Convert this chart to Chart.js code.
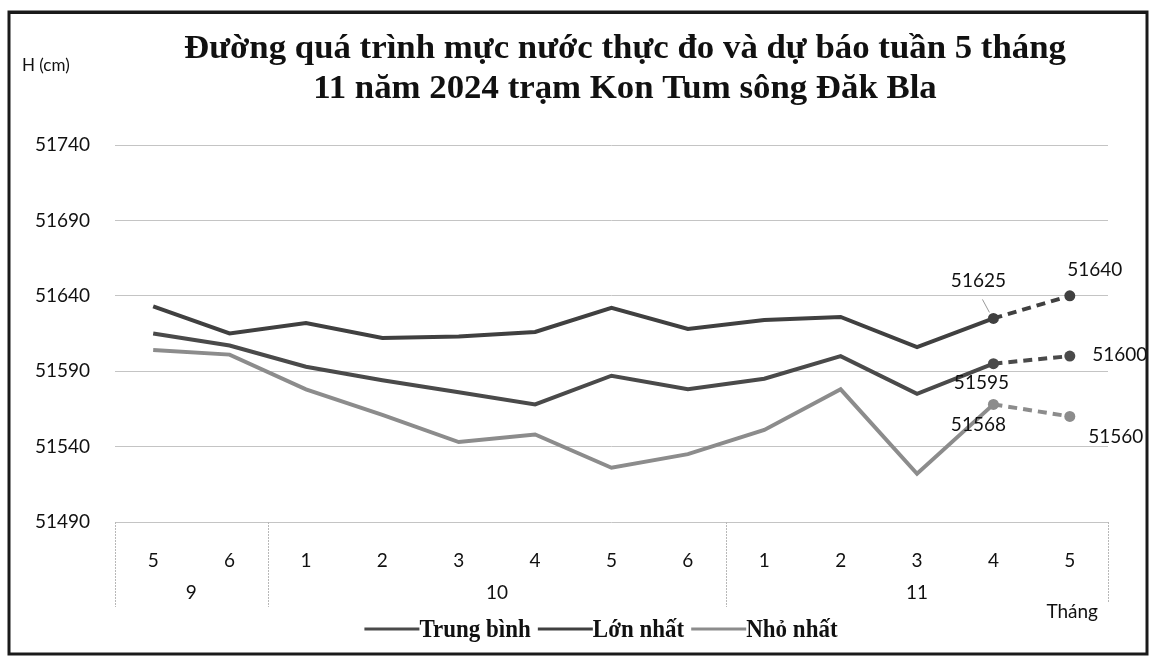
<!DOCTYPE html>
<html><head><meta charset="utf-8">
<script src="https://cdn.jsdelivr.net/npm/chart.js@4"></script>
<style>html,body{margin:0;padding:0;background:#fff}#wrap{width:1152px;height:657px}</style>
</head><body><div id="wrap"><canvas id="c" width="1152" height="657"></canvas></div>
<script>
// ---- data ----
const weeks = ['5','6','1','2','3','4','5','6','1','2','3','4','5'];
const months = ['9','10','11'];
const monthSpans = [2, 6, 5];
const avgLevel = [51615, 51607, 51593, 51584, 51576, 51568, 51587, 51578, 51585, 51600, 51575, 51595, 51600];
const maxLevel = [51633, 51615, 51622, 51612, 51613, 51616, 51632, 51618, 51624, 51626, 51606, 51625, 51640];
const minLevel = [51604, 51601, 51578, 51561, 51543, 51548, 51526, 51535, 51551, 51578, 51522, 51568, 51560];
const seriesNames = ['Trung bình', 'Lớn nhất', 'Nhỏ nhất'];
const forecastStart = 11;
const yMin = 51490, yMax = 51740, yStep = 50;
const titleLines = ['Đường quá trình mực nước thực đo và dự báo tuần 5 tháng', '11 năm 2024 trạm Kon Tum sông Đăk Bla'];
const yAxisTitle = 'H (cm)';
const xAxisTitle = 'Tháng';

// ---- styles ----
const colors = ['#4a4a4a', '#404040', '#8c8c8c'];
const labelOffsets = [ // per dataset: [idx, dx, dy, hasLeader]
  [[11, -12, 19, false], [12, 50, -1, false]],
  [[11, -15, -38, true], [12, 25, -26, false]],
  [[11, -15, 20, false], [12, 46, 20, false]]
];

function mkDataset(name, data, i) {
  return {
    label: name, data: data, borderColor: colors[i], backgroundColor: colors[i],
    borderWidth: 4, tension: 0, fill: false,
    pointRadius: c => c.dataIndex >= forecastStart ? 5.5 : 0,
    pointHoverRadius: 0, pointBorderWidth: 0,
    segment: { borderDash: c => c.p0DataIndex >= forecastStart ? [9, 6] : undefined }
  };
}

const decor = {
  id: 'decor',
  beforeDraw(chart) {
    const ctx = chart.ctx;
    ctx.save();
    ctx.fillStyle = '#fff';
    ctx.fillRect(0, 0, chart.width, chart.height);
    ctx.restore();
  },
  afterDraw(chart) {
    const ctx = chart.ctx, ca = chart.chartArea, xs = chart.scales.x;
    ctx.save();
    // title
    ctx.fillStyle = '#111';
    ctx.textAlign = 'center'; ctx.textBaseline = 'middle';
    ctx.font = 'bold 29px "Liberation Serif"';
    const w1 = ctx.measureText(titleLines[0]).width;
    const sx = 882 / w1;
    [[titleLines[0], 49], [titleLines[1], 89]].forEach(([t, y]) => {
      ctx.save(); ctx.translate(625, y); ctx.scale(sx, 1.15); ctx.fillText(t, 0, 0); ctx.restore();
    });
    // y axis title
    ctx.font = '17px Lato'; ctx.fillStyle = '#111'; ctx.textAlign = 'left';
    ctx.fillText(yAxisTitle, 22, 66);
    // category separators + month labels
    const b = [ca.left];
    let acc = 0;
    monthSpans.forEach((s) => {
      acc += s;
      b.push(acc >= weeks.length ? ca.right : (xs.getPixelForValue(acc - 1) + xs.getPixelForValue(acc)) / 2);
    });
    ctx.strokeStyle = '#b8b8b8'; ctx.lineWidth = 1; ctx.setLineDash([2, 1]);
    b.forEach((x, k) => {
      ctx.beginPath(); ctx.moveTo(Math.round(x) + 0.5, ca.bottom); ctx.lineTo(Math.round(x) + 0.5, k === b.length - 1 ? 602 : 607); ctx.stroke();
    });
    ctx.setLineDash([]);
    ctx.font = '19px Lato'; ctx.fillStyle = '#111'; ctx.textAlign = 'center';
    months.forEach((m, k) => ctx.fillText(m, (b[k] + b[k + 1]) / 2, 593));
    ctx.textAlign = 'right';
    ctx.fillText(xAxisTitle, 1098, 612);
    // data labels
    ctx.textAlign = 'center';
    labelOffsets.forEach((list, di) => {
      const meta = chart.getDatasetMeta(di);
      const data = chart.data.datasets[di].data;
      list.forEach(([idx, dx, dy, leader]) => {
        const p = meta.data[idx];
        ctx.fillStyle = '#111';
        ctx.fillText(String(data[idx]), p.x + dx, p.y + dy);
        if (leader) {
          ctx.strokeStyle = '#999'; ctx.lineWidth = 1;
          ctx.beginPath(); ctx.moveTo(p.x - 11, p.y - 19); ctx.lineTo(p.x - 4, p.y - 6); ctx.stroke();
        }
      });
    });
    // legend
    ctx.font = 'bold 23px "Liberation Serif"'; ctx.textAlign = 'left'; ctx.textBaseline = 'alphabetic';
    const lineLen = 55, gap = 7;
    let total = 0;
    seriesNames.forEach((n, i) => { total += lineLen + ctx.measureText(n).width + (i ? gap : 0); });
    let x = 601 - total / 2;
    seriesNames.forEach((n, i) => {
      if (i) x += gap;
      ctx.strokeStyle = colors[i]; ctx.lineWidth = 3;
      ctx.beginPath(); ctx.moveTo(x, 629); ctx.lineTo(x + lineLen, 629); ctx.stroke();
      x += lineLen;
      ctx.fillStyle = '#111';
      ctx.save(); ctx.translate(x, 637); ctx.scale(1, 1.12); ctx.fillText(n, 0, 0); ctx.restore();
      x += ctx.measureText(n).width;
    });
    // frame
    ctx.strokeStyle = '#1a1a1a'; ctx.lineWidth = 3;
    ctx.strokeRect(9, 12, 1138, 642);
    ctx.lineWidth = 2;
    ctx.beginPath(); ctx.moveTo(8, 13); ctx.lineTo(1148, 13); ctx.stroke();
    ctx.restore();
  }
};

new Chart(document.getElementById('c'), {
  type: 'line',
  data: {
    labels: weeks,
    datasets: [
      mkDataset(seriesNames[0], avgLevel, 0),
      mkDataset(seriesNames[1], maxLevel, 1),
      mkDataset(seriesNames[2], minLevel, 2)
    ]
  },
  options: {
    responsive: false, animation: false,
    layout: { padding: { left: 0, top: 145, right: 44, bottom: 0 } },
    plugins: { legend: { display: false }, title: { display: false }, tooltip: { enabled: false } },
    scales: {
      x: {
        offset: true,
        grid: { display: false, drawTicks: false },
        border: { display: false },
        ticks: { font: { family: 'Lato', size: 19 }, color: '#111', padding: 27, maxRotation: 0, autoSkip: false },
        afterFit: s => { s.height = 135; }
      },
      y: {
        min: yMin, max: yMax,
        grid: { color: '#c4c4c4', lineWidth: 1, drawTicks: false },
        border: { display: false },
        ticks: { stepSize: yStep, font: { family: 'Lato', size: 19 }, color: '#111', padding: 25,
                 callback: v => String(v) },
        afterFit: s => { s.width = 115; }
      }
    }
  },
  plugins: [decor]
});
</script>
</body></html>
